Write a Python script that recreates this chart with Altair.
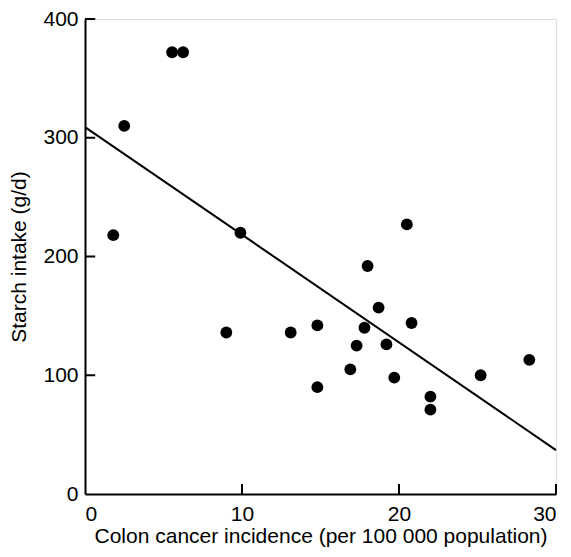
import altair as alt
import pandas as pd

# Scatter data
incidence = [1.8, 2.5, 5.55, 6.25, 9.9, 9.0, 13.1, 14.8, 14.8, 16.9, 17.3,
             17.8, 18.0, 18.7, 19.2, 19.7, 20.5, 20.8, 22.0, 22.0, 25.2, 28.3]
starch = [218, 310, 372, 372, 220, 136, 136, 142, 90, 105, 125,
          140, 192, 157, 126, 98, 227, 144, 82, 71, 100, 113]

# Fitted line end points
line_x = [0, 30]
line_y = [309, 37]

# Axis tick values (inward ticks)
x_ticks = [10, 20, 30]
y_ticks = [100, 200, 300, 400]

FONT = "Liberation Sans"

pts = pd.DataFrame({"x": incidence, "y": starch})
ln = pd.DataFrame({"x": line_x, "y": line_y})
xt = pd.DataFrame({"v": x_ticks})
yt = pd.DataFrame({"v": y_ticks})

xscale = alt.Scale(domain=[0, 30], nice=False, zero=True)
yscale = alt.Scale(domain=[0, 400], nice=False, zero=True)

xaxis = alt.Axis(
    title="Colon cancer incidence (per 100 000 population)",
    values=[0, 10, 20, 30], ticks=False, grid=False,
    domainColor="black", domainWidth=2,
    labelFont=FONT, labelFontSize=21, labelColor="black", labelPadding=9,
    titleFont=FONT, titleFontSize=21, titleFontWeight="normal", titleColor="black",
    titlePadding=1,
)
yaxis = alt.Axis(
    title="Starch intake (g/d)",
    values=[0, 100, 200, 300, 400], ticks=False, grid=False,
    domainColor="black", domainWidth=2,
    labelFont=FONT, labelFontSize=21, labelColor="black", labelPadding=7,
    titleFont=FONT, titleFontSize=21, titleFontWeight="normal", titleColor="black",
    titlePadding=13,
)

points = alt.Chart(pts).mark_circle(size=140, color="black", opacity=1).encode(
    x=alt.X("x:Q", scale=xscale, axis=xaxis),
    y=alt.Y("y:Q", scale=yscale, axis=yaxis),
)

line = alt.Chart(ln).mark_line(color="black", strokeWidth=2).encode(
    x=alt.X("x:Q", scale=xscale),
    y=alt.Y("y:Q", scale=yscale),
)

xtick = alt.Chart(xt).mark_rule(color="black", strokeWidth=2).encode(
    x=alt.X("v:Q", scale=xscale),
    y=alt.datum(0),
    y2=alt.datum(8.5),
)

ytick = alt.Chart(yt).mark_rule(color="black", strokeWidth=2).encode(
    y=alt.Y("v:Q", scale=yscale),
    x=alt.datum(0),
    x2=alt.datum(0.65),
)

chart = alt.layer(line, points, xtick, ytick).properties(
    width=471, height=475,
    autosize=alt.AutoSizeParams(type="none"),
    padding={"left": 77, "top": 11, "right": 7, "bottom": 55},
).configure_view(stroke=None).configure(background="white")

chart.save("out.html", embed_options={"renderer": "svg", "actions": False})
